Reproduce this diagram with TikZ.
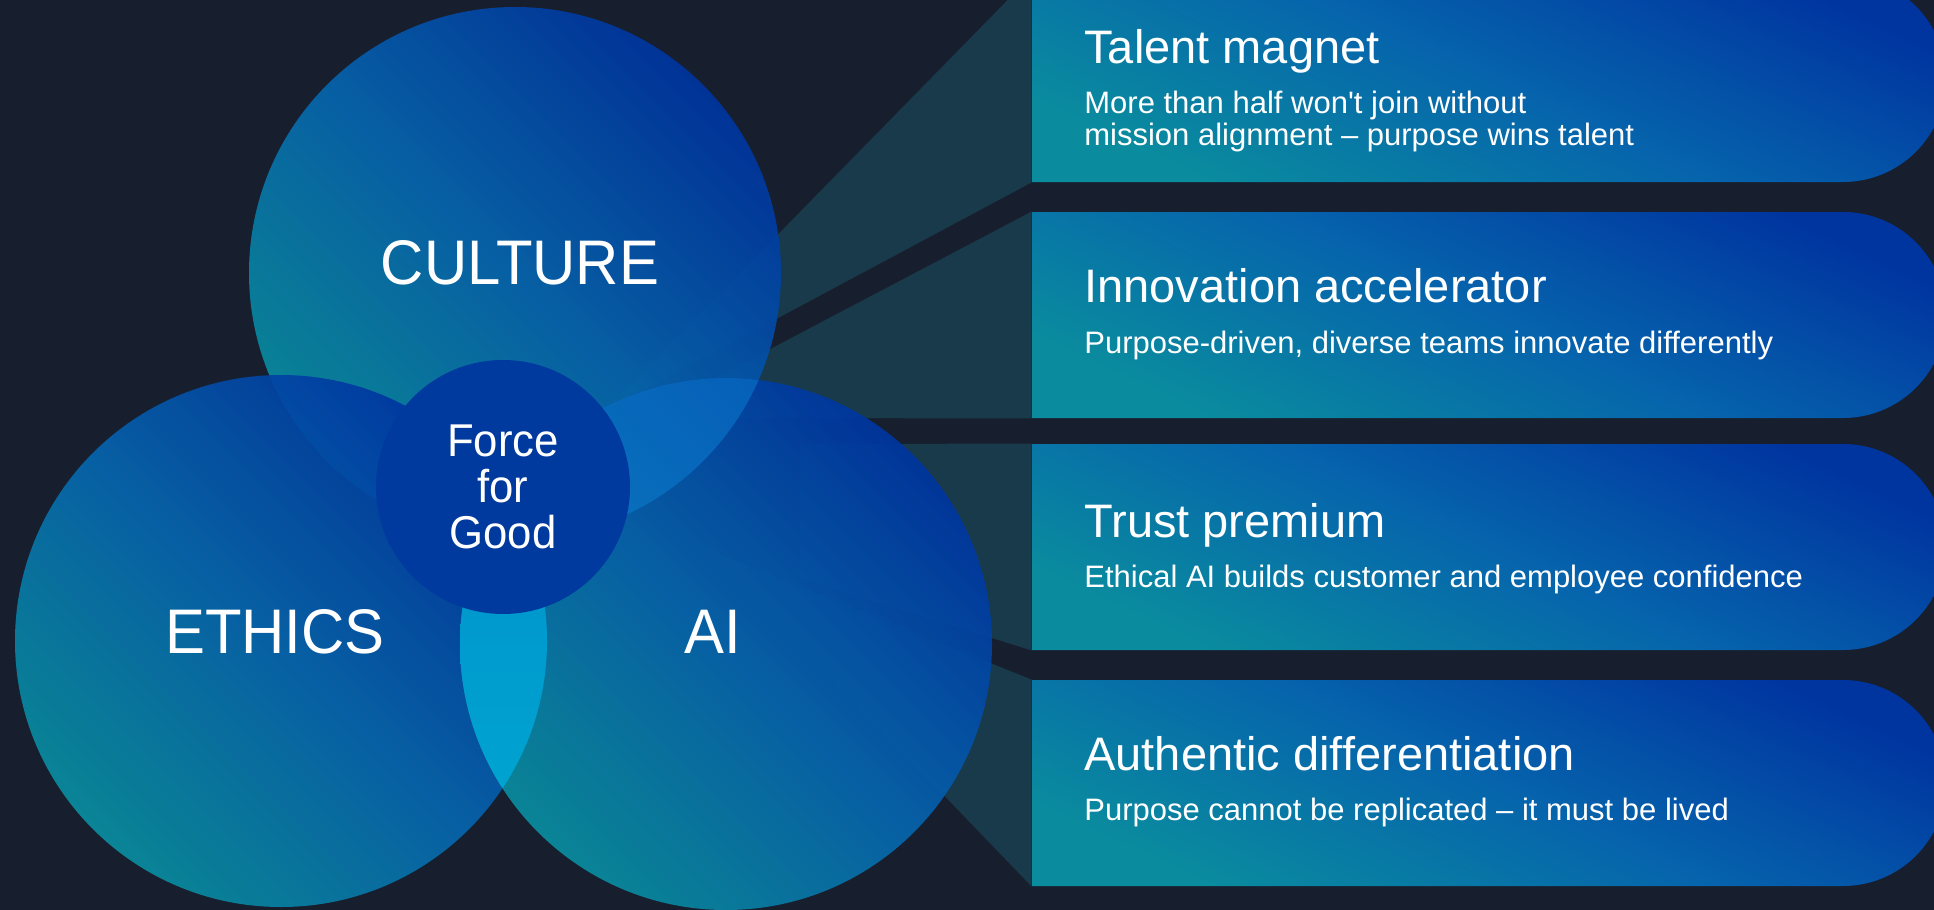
\documentclass[tikz,border=0pt]{standalone}
\usepackage{fontspec}
\setmainfont{Liberation Sans}
\newfontfamily\narrowsans{Liberation Sans}[FakeStretch=0.95]
\usepackage{xcolor}
\usepackage{tikz}
\usetikzlibrary{positioning, shapes.misc}

\definecolor{bgnavy}{HTML}{171F2E}
\definecolor{tealC}{HTML}{0A8C9E}
\definecolor{midB}{HTML}{0664AC}
\definecolor{blueD}{HTML}{0035A0}
\definecolor{wedgeT}{HTML}{1E6E80}
\definecolor{coreB}{HTML}{003A9E}
\definecolor{lensTop}{HTML}{008CCB}
\definecolor{lensBot}{HTML}{00AAD2}
\definecolor{lensUp}{HTML}{0B7ACB}

\begin{document}
\begin{tikzpicture}[x=0.5pt, y=-0.5pt,
  venn/.style={circle, minimum size=266pt, inner sep=0pt, top color=blueD, bottom color=tealC, middle color=midB, shading angle=-45, fill opacity=0.93},
  card/.style={rounded rectangle, rounded rectangle left arc=none, minimum width=457pt, minimum height=103pt, inner sep=0pt, top color=blueD, bottom color=tealC, middle color=midB, shading angle=-25},
  wedge/.style={fill=wedgeT, fill opacity=0.35},
  headline/.style={anchor=base west, text=white, inner sep=0pt, font=\fontsize{23.5}{28}\selectfont},
  blurb/.style={anchor=base west, text=white, inner sep=0pt, align=left, font=\fontsize{15.5}{16}\selectfont},
  vennlabel/.style={text=white, inner sep=0pt, font=\narrowsans\fontsize{31.5}{32}\selectfont},
  core/.style={circle, fill=coreB, minimum size=127pt, inner sep=0pt}]

\useasboundingbox (0,0) rectangle (1934,910);
\clip (0,0) rectangle (1934,910);
\fill[bgnavy] (0,0) rectangle (1934,910);

% cards on the right
\node[card] (talent) at (1489, 79) {};
\node[card] (innov)  at (1489, 315) {};
\node[card] (trust)  at (1489, 547) {};
\node[card] (auth)   at (1489, 783) {};

% wedges from the venn to the cards
\coordinate (W1) at (606, 410);
\coordinate (W2a) at (700, 386);
\coordinate (W2b) at (700, 418);
\coordinate (W3a) at (800, 444);
\coordinate (W3b) at (800, 578);
\coordinate (W4) at (708, 550);

\fill[wedge] (talent.west |- talent.north) -- (talent.west |- talent.south) -- (W1) -- cycle;
\fill[wedge] (innov.west |- innov.north) -- (innov.west |- innov.south) -- (W2b) -- (W2a) -- cycle;
\fill[wedge] (trust.west |- trust.north) -- (trust.west |- trust.south) -- (W3b) -- (W3a) -- cycle;
\fill[wedge] (auth.west |- auth.north) -- (auth.west |- auth.south) -- (W4) -- cycle;

% venn
\node[venn] (culture) at (515, 273) {};
\node[venn] (ethics)  at (281, 641) {};
\node[venn] (ai)      at (726, 644) {};

\begin{scope}
  \clip (ethics.center) circle[radius=133pt];
  \shade[top color=lensTop, bottom color=lensBot] (ai.center) circle[radius=133pt];
\end{scope}
\begin{scope}
  \clip (culture.center) circle[radius=133pt];
  \fill[lensUp, fill opacity=0.55] (ai.center) circle[radius=133pt];
\end{scope}

\node[core] (good) at (503, 487) {};

\node[vennlabel] (cultureL) at (520, 263) {CULTURE};
\node[vennlabel] (ethicsL)  at (275, 632) {ETHICS};
\node[vennlabel] (aiL)      at (713, 632) {AI};
\node[text=white, align=center, font=\narrowsans\fontsize{23}{23}\selectfont] (goodL) at (good.center) {Force\\for\\Good};

% card texts
\node[headline] (talentT) at (1084, 63) {Talent magnet};
\node[blurb] (talentS) at (1084, 145) {More than half won\textquotesingle t join without\\mission alignment \textendash{} purpose wins talent};

\node[headline] (innovT) at (1084, 302) {Innovation accelerator};
\node[blurb] (innovS) at (1084, 353) {Purpose-driven, diverse teams innovate differently};

\node[headline] (trustT) at (1084, 537) {Trust premium};
\node[blurb] (trustS) at (1084, 587) {Ethical AI builds customer and employee confidence};

\node[headline] (authT) at (1084, 770) {Authentic differentiation};
\node[blurb] (authS) at (1084, 820) {Purpose cannot be replicated \textendash{} it must be lived};
\end{tikzpicture}
\end{document}
